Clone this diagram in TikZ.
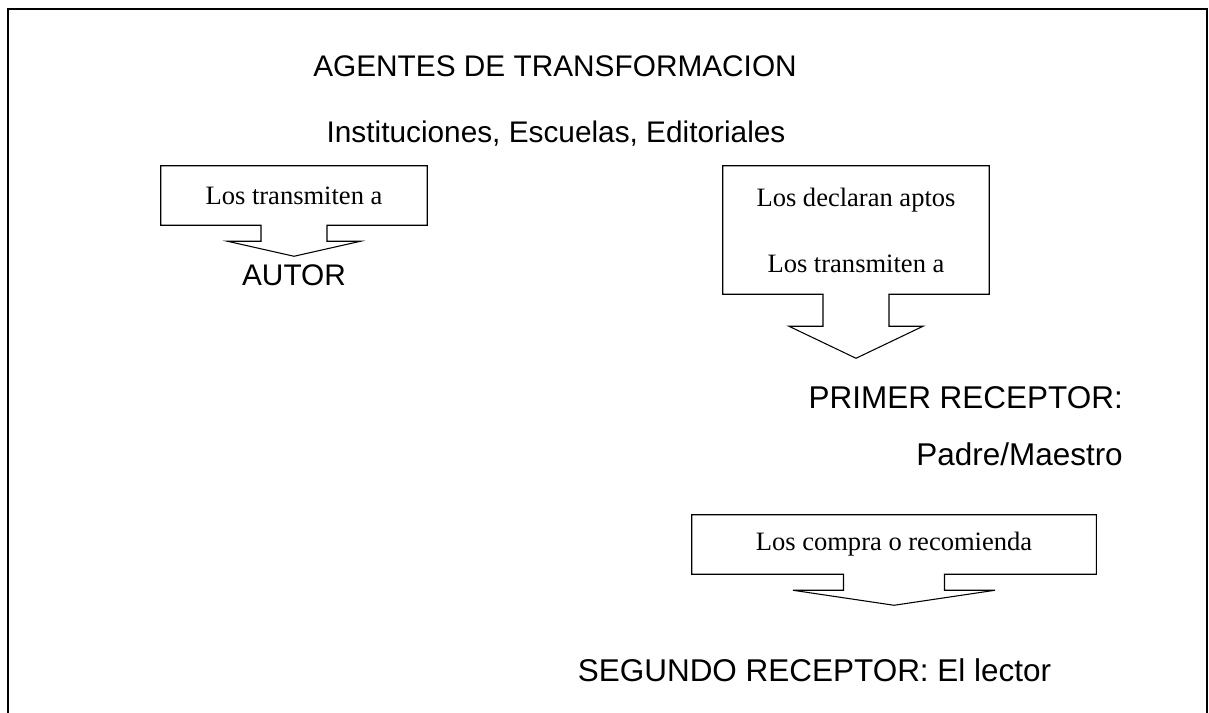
\documentclass[tikz,border=0pt]{standalone}
\usepackage{fontspec}
\setmainfont{Liberation Serif}
\setsansfont{Liberation Sans}
\usetikzlibrary{positioning,calc}

\begin{document}
\begin{tikzpicture}[x=0.75pt,y=-0.75pt,
  title/.style={font=\sffamily\fontsize{22.35}{26}\selectfont, inner sep=0pt, anchor=base},
  receptor/.style={font=\sffamily\fontsize{23.6}{28}\selectfont, inner sep=0pt},
  callout/.style={font=\fontsize{19.9}{23.9}\selectfont, align=center, inner sep=0pt, minimum width=199.5pt},
  outline/.style={line width=0.8pt, line join=miter}]
  \useasboundingbox (0,0) rectangle (1209,713);
  \draw[line width=1.5pt] (8,730) -- (8,9.5) -- (1207,9.5) -- (1207,730);

  \node[title] (agentes) at (555,77) {AGENTES DE TRANSFORMACION};
  \node[title] (inst) at (556,143) {Instituciones, Escuelas, Editoriales};

  % left callout
  \node[callout, minimum height=44.25pt] (c1) at (294,195.5) {Los transmiten a};
  \draw[outline] (c1.south west) -- (c1.north west) -- (c1.north east) -- (c1.south east)
    -- ($(c1.south)+(33,0)$) -- ++(0,16) -- ++(33.5,0) -- ($(c1.south)+(0,31)$) coordinate (t1)
    -- ($(c1.south)+(-66.5,16)$) -- ++(33.5,0) -- ($(c1.south)+(-33,0)$) -- cycle;
  \node[title] (autor) at ($(t1)+(0,29)$) {AUTOR};

  % right callout
  \node[callout, minimum height=96pt] (c2) at (856,230) {Los declaran aptos\\[25.6pt]Los transmiten a};
  \draw[outline] (c2.south west) -- (c2.north west) -- (c2.north east) -- (c2.south east)
    -- ($(c2.south)+(33,0)$) -- ++(0,32) -- ++(34,0) -- ($(c2.south)+(0,64)$) coordinate (t2)
    -- ($(c2.south)+(-67,32)$) -- ++(34,0) -- ($(c2.south)+(-33,0)$) -- cycle;
  \node[receptor, anchor=base east] (primer) at (1123,408) {PRIMER RECEPTOR:};
  \node[receptor, anchor=base east] (padre) at (1123,465) {Padre/Maestro};

  % lower callout
  \node[callout, minimum height=44.25pt, minimum width=303pt] (c3) at (894,544.5) {Los compra o recomienda};
  \draw[outline] (c3.south west) -- (c3.north west) -- (c3.north east) -- (c3.south east)
    -- ($(c3.south)+(50.5,0)$) -- ++(0,16) -- ++(50.5,0) -- ($(c3.south)+(0,31)$) coordinate (t3)
    -- ($(c3.south)+(-101,16)$) -- ++(50.5,0) -- ($(c3.south)+(-50.5,0)$) -- cycle;
  \node[receptor, anchor=base] (segundo) at (814.5,681) {SEGUNDO RECEPTOR: El lector};
\end{tikzpicture}
\end{document}
